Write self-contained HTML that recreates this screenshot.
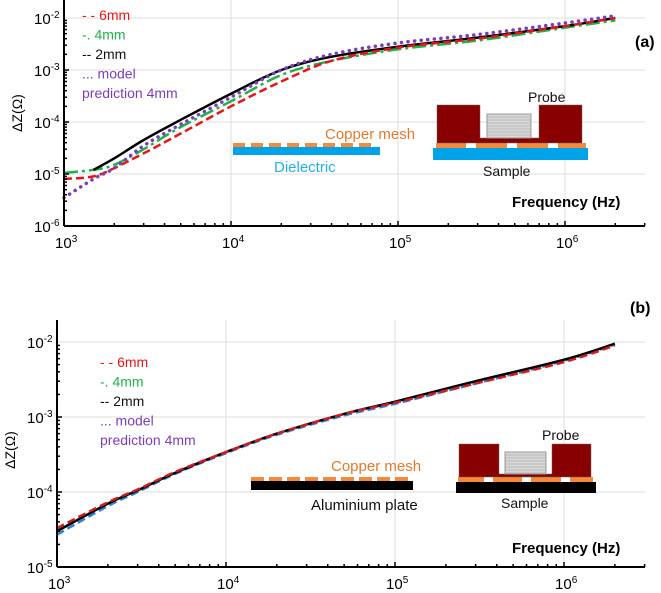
<!DOCTYPE html>
<html><head><meta charset="utf-8"><style>
body{margin:0;background:#fff}
svg{display:block;font-family:"Liberation Sans",sans-serif}
</style></head><body>
<svg id="s" width="661" height="593" viewBox="0 0 661 593">
<g id="pa"></g>
<g id="pb"></g>
<g>
<rect x="233" y="147" width="147" height="8" fill="#00a2e8"/>
<g fill="#f58a3b" id="dashA"></g>
<text x="325" y="139" font-size="15" fill="#e07a30">Copper mesh</text>
<text x="274" y="172" font-size="15" fill="#22b0e8">Dielectric</text>
<rect x="433" y="148" width="155" height="12" fill="#00a2e8"/>
<rect x="436" y="143" width="150" height="5" fill="#f58a3b"/>
<rect x="466" y="143" width="10" height="5" fill="#fff"/><rect x="507" y="143" width="10" height="5" fill="#fff"/><rect x="548" y="143" width="10" height="5" fill="#fff"/>
<path d="M437 105H480V138H539V105H582V143H437Z" fill="#880000" stroke="#666" stroke-width="0.5"/>
<rect x="487" y="114" width="44" height="24" fill="#d8d8d8" stroke="#999"/>
<g stroke="#999" stroke-width="0.6" id="coilA"></g>
<text x="528" y="102" font-size="14" fill="#111">Probe</text>
<text x="483" y="176" font-size="14" fill="#111">Sample</text>
</g>
<g>
<rect x="251" y="481" width="162" height="9" fill="#000"/>
<g fill="#f58a3b" id="dashB"></g>
<text x="331" y="471" font-size="15" fill="#e07a30">Copper mesh</text>
<text x="311" y="510" font-size="15" fill="#111">Aluminium plate</text>
<rect x="456" y="482" width="140" height="11" fill="#000"/>
<rect x="458" y="477" width="135" height="5" fill="#f58a3b"/>
<rect x="484" y="477" width="9" height="5" fill="#fff"/><rect x="522" y="477" width="9" height="5" fill="#fff"/><rect x="561" y="477" width="9" height="5" fill="#fff"/>
<path d="M459 444H499V474H552V444H591V477H459Z" fill="#880000" stroke="#666" stroke-width="0.5"/>
<rect x="505" y="452" width="41" height="22" fill="#d8d8d8" stroke="#999"/>
<g stroke="#999" stroke-width="0.6" id="coilB"></g>
<text x="542" y="440" font-size="14" fill="#111">Probe</text>
<text x="501" y="508" font-size="14" fill="#111">Sample</text>
</g>
</svg>
<script>
const NS='http://www.w3.org/2000/svg';
const xTicks=[3,4,5,6];
const yTicksA=[-6,-5,-4,-3,-2];
const yTicksB=[-5,-4,-3,-2];
const fA=[1e3,1.5e3,2e3,3e3,5e3,1e4,2e4,4e4,1e5,3e5,1e6,2e6];
const redA=[8e-6,9e-6,1.3e-5,2.5e-5,6e-5,2e-4,6e-4,1.5e-3,2.7e-3,4e-3,7e-3,1e-2];
const greenA=[1.05e-5,1.2e-5,1.5e-5,3e-5,8e-5,2.5e-4,8e-4,1.5e-3,2.5e-3,3.7e-3,6.5e-3,9e-3];
const fBlackA=[1.5e3,2e3,3e3,5e3,1e4,2e4,4e4,1e5,3e5,1e6,2e6];
const blackA=[1.2e-5,2e-5,4.5e-5,1.1e-4,3.5e-4,1e-3,1.8e-3,2.8e-3,4.2e-3,7e-3,1e-2];
const purpleA=[3.5e-6,8e-6,1.3e-5,3.5e-5,9e-5,3e-4,1e-3,2e-3,3.3e-3,4.8e-3,8e-3,1.1e-2];
const fB=[1e3,2e3,3e3,5e3,1e4,2e4,5e4,1e5,3e5,1e6,2e6];
const blackB=[3e-5,7e-5,1.05e-4,1.8e-4,3.4e-4,6e-4,1.1e-3,1.6e-3,3e-3,5.8e-3,9.5e-3];
const redB=[3.3e-5,7.3e-5,1.08e-4,1.85e-4,3.4e-4,6e-4,1.1e-3,1.55e-3,2.8e-3,5.4e-3,9e-3];
const blueB=[2.7e-5,6.5e-5,1e-4,1.75e-4,3.3e-4,5.8e-4,1.05e-3,1.5e-3,2.8e-3,5.6e-3,9.3e-3];
function el(t,a,p){const e=document.createElementNS(NS,t);for(const k in a)e.setAttribute(k,a[k]);p.appendChild(e);return e;}
function smooth(pts){
 let d='M'+pts[0][0].toFixed(1)+' '+pts[0][1].toFixed(1);
 for(let i=0;i<pts.length-1;i++){
  const p0=pts[Math.max(0,i-1)],p1=pts[i],p2=pts[i+1],p3=pts[Math.min(pts.length-1,i+2)];
  const c1=[p1[0]+(p2[0]-p0[0])/6,p1[1]+(p2[1]-p0[1])/6];
  const c2=[p2[0]-(p3[0]-p1[0])/6,p2[1]-(p3[1]-p1[1])/6];
  d+=`C${c1[0].toFixed(1)} ${c1[1].toFixed(1)} ${c2[0].toFixed(1)} ${c2[1].toFixed(1)} ${p2[0].toFixed(1)} ${p2[1].toFixed(1)}`;
 }
 return d;
}
function panel(g,cfg,series){
 const X=v=>cfg.x0+(Math.log10(v)-3)*cfg.dx;
 const Y=v=>cfg.yb-(Math.log10(v)-cfg.ymin)*cfg.dy;
 xTicks.forEach(t=>{if(t>3){const l=el('line',{x1:X(10**t),x2:X(10**t),y1:cfg.top,y2:cfg.yb,stroke:'#ddd'},g);}});
 cfg.yt.forEach(t=>{if(t>cfg.ymin){const l=el('line',{x1:cfg.x0,x2:645,y1:Y(10**t),y2:Y(10**t),stroke:'#ddd'},g);}});
 series.forEach(s=>{
  const pts=s.f.map((f,i)=>[X(f),Y(s.v[i])]);
  const p=el('path',{d:smooth(pts),fill:'none',stroke:s.c,'stroke-width':s.w||2.5,'stroke-dasharray':s.da||'','stroke-linecap':s.lc||'butt'},g);
  
  
 });
 el('line',{x1:cfg.x0,x2:cfg.x0,y1:cfg.top,y2:cfg.yb,stroke:'#000','stroke-width':2},g);
 el('line',{x1:cfg.x0,x2:645,y1:cfg.yb,y2:cfg.yb,stroke:'#000','stroke-width':2},g);
 for(let d=3;d<7;d++)for(let m=1;m<10;m++){const x=X(m*10**d);if(x>645)break;el('line',{x1:x,x2:x,y1:cfg.yb,y2:cfg.yb-(m==1?5:3),stroke:'#000','stroke-width':1.5},g);}
 for(let d=cfg.ymin;d<-2;d++)for(let m=1;m<10;m++){const y=Y(m*10**d);el('line',{x1:cfg.x0,x2:cfg.x0+(m==1?5:3),y1:y,y2:y,stroke:'#000','stroke-width':1.5},g);}
 xTicks.forEach(t=>{const tx=el('text',{x:X(10**t)-9,y:cfg.yb+22,'font-size':15},g);tx.innerHTML='10<tspan dy="-6" font-size="10">'+t+'</tspan>';});
 cfg.yt.forEach(t=>{const tx=el('text',{x:cfg.x0-30,y:Y(10**t)+6,'font-size':15},g);tx.innerHTML='10<tspan dy="-6" font-size="10">'+t+'</tspan>';});
 const yl=el('text',{transform:`translate(${cfg.x0-42},${cfg.ylab}) rotate(-90)`,'font-size':14,'text-anchor':'middle'},g);yl.textContent='ΔZ(Ω)';
 
 const xl=el('text',{x:cfg.xlx,y:cfg.xly,'font-size':15,'font-weight':'bold'},g);xl.textContent='Frequency (Hz)';
 
 const pl=el('text',{x:cfg.plx,y:cfg.ply,'font-size':16,'font-weight':'bold'},g);pl.textContent=cfg.pl;
 
 const lg=el('g',{'font-size':14},g);
 const items=[['- - 6mm','#e8141a'],['-.  4mm','#1fb14b'],['--  2mm','#111'],['... model','#7a3fb8'],['prediction 4mm','#7a3fb8']];
 items.forEach((it,i)=>{const t=el('text',{x:cfg.lgx,y:cfg.lgy+i*19.5,fill:it[1]},lg);t.textContent=it[0];});
}
panel(document.getElementById('pa'),{x0:64,dx:167,yb:226,dy:52,ymin:-6,top:0,yt:yTicksA,ylab:113,xlx:512,xly:207,plx:635,ply:47,pl:'(a)',lgx:82,lgy:20},[
 {f:fA,v:greenA,c:'#1fb14b',da:'14 4 3 4',n:'series-4mm'},
 {f:fBlackA,v:blackA,c:'#000',n:'series-2mm'},
 {f:fA,v:redA,c:'#e8141a',da:'8 4',n:'series-6mm'},
 {f:fA,v:purpleA,c:'#7a3fb8',w:3.5,da:'0.1 6.5',lc:'round',n:'series-model-4mm'}]);
panel(document.getElementById('pb'),{x0:57,dx:169,yb:567,dy:75,ymin:-5,top:320,yt:yTicksB,ylab:450,xlx:512,xly:553,plx:630,ply:313,pl:'(b)',lgx:100,lgy:367},[
 {f:fB,v:blueB,c:'#2f7fd0',da:'8 4',n:'series-blue'},
 {f:fB,v:blackB,c:'#000',n:'series-2mm'},
 {f:fB,v:redB,c:'#d01c20',da:'8 4',n:'series-6mm'}]);
function dashes(id,x0,x1,y,h,w,gap){const g=document.getElementById(id);for(let x=x0;x+w<=x1+1;x+=w+gap)el('rect',{x:x,y:y,width:w,height:h},g);}
dashes('dashA',233,380,143,4,12,6);
dashes('dashB',251,413,477,4,13,5);
function coil(id,x0,x1,y0,y1){const g=document.getElementById(id);for(let y=y0+3;y<y1;y+=3)el('line',{x1:x0,x2:x1,y1:y,y2:y},g);}
coil('coilA',487,531,114,138);coil('coilB',505,546,452,474);
</script>
</body></html>
